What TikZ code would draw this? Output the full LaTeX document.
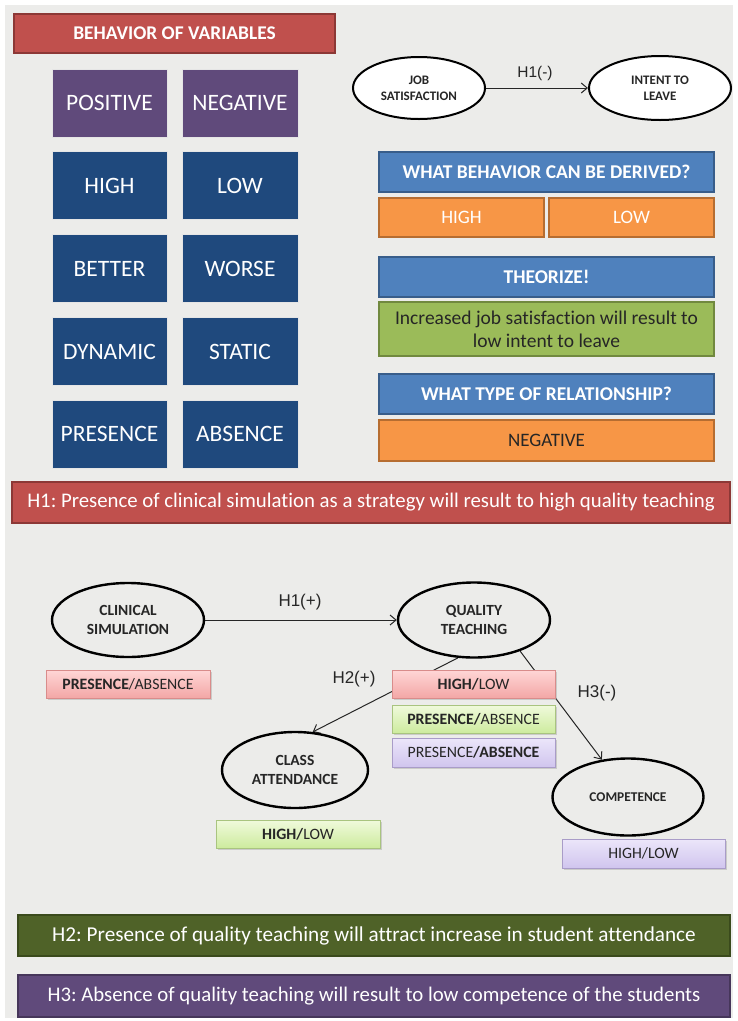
\documentclass[tikz,border=0pt]{standalone}
\usepackage{fontspec}
\setmainfont{Carlito}[Ligatures=NoCommon]
\newfontfamily\arialfont{Liberation Sans}
\usetikzlibrary{shapes.geometric,arrows.meta,shadows}
\frenchspacing
\definecolor{bgcol}{HTML}{ECECEA}
\definecolor{redf}{HTML}{C0504D}
\definecolor{redd}{HTML}{8C3836}
\definecolor{purf}{HTML}{604A7B}
\definecolor{purd}{HTML}{46365A}
\definecolor{navy}{HTML}{1F497D}
\definecolor{bluef}{HTML}{4F81BD}
\definecolor{blued}{HTML}{385D8A}
\definecolor{orf}{HTML}{F79646}
\definecolor{ord}{HTML}{B66D31}
\definecolor{grf}{HTML}{9BBB59}
\definecolor{grd}{HTML}{71893F}
\definecolor{olivef}{HTML}{4F6228}
\definecolor{olived}{HTML}{3A4A1C}
\definecolor{txt}{HTML}{262626}
\definecolor{pinkt}{HTML}{FFD6D6}
\definecolor{pinkb}{HTML}{F3A7A6}
\definecolor{pinkd}{HTML}{D98C8B}
\definecolor{greent}{HTML}{F0FADC}
\definecolor{greenb}{HTML}{CDEB9E}
\definecolor{greend}{HTML}{A9C47F}
\definecolor{purt}{HTML}{ECE6FA}
\definecolor{purb}{HTML}{D0C5EE}
\definecolor{purtd}{HTML}{A99CC8}
\newcommand\fsz[2]{\fontsize{#1}{#2}\selectfont}
\pgfdeclarelayer{bg}
\pgfdeclarelayer{lines}
\pgfsetlayers{bg,lines,main}
\tikzset{
  box/.style={rectangle, inner sep=0pt, align=center},
  titlebox/.style={box, fill=redf, draw=redd, line width=1.2pt, text=white},
  grid/.style={box, minimum width=116pt, minimum height=68pt, text=white,
    font=\fsz{23.5}{27}, draw=white!80!gray, line width=0.8pt},
  gpurple/.style={grid, fill=purf},
  gnavy/.style={grid, fill=navy},
  bluebar/.style={box, minimum width=335pt, minimum height=40pt, fill=bluef,
    draw=blued, line width=1.2pt, text=white, font=\fsz{19.5}{23}\bfseries},
  orbox/.style={box, fill=orf, draw=ord, line width=1.2pt, font=\fsz{19}{23}},
  grbox/.style={box, fill=grf, draw=grd, line width=1.2pt, text=txt, font=\fsz{19.5}{23}},
  hbar/.style={box, line width=1.2pt, text=white, font=\fsz{20.8}{24}},
  ell/.style={ellipse, draw=black, line width=2.4pt, inner sep=0pt, align=center,
    text=txt, font=\fsz{15.5}{18.5}\bfseries},
  tag/.style={box, minimum width=164pt, minimum height=28pt, line width=0.8pt,
    text=txt, font=\fsz{15.8}{18},
    drop shadow={shadow xshift=1.5pt, shadow yshift=-1.5pt, opacity=0.3, fill=gray}},
  pinktag/.style={tag, top color=pinkt, bottom color=pinkb, draw=pinkd},
  greentag/.style={tag, top color=greent, bottom color=greenb, draw=greend},
  purpletag/.style={tag, top color=purt, bottom color=purb, draw=purtd},
  hyp/.style={font=\arialfont\fsz{17}{19}, text=txt, inner sep=0pt},
  conn/.style={line width=1pt, draw=txt, -{Straight Barb[length=6pt, width=10pt]}},
}
\begin{document}
\begin{tikzpicture}[x=1pt, y=-1pt]
\useasboundingbox (0,0) rectangle (737,1021);
\begin{pgfonlayer}{bg}
  \fill[white] (0,0) rectangle (737,1021);
  \fill[bgcol] (5,5) rectangle (733,1018);
\end{pgfonlayer}

% ---------- top left ----------
\node[titlebox, minimum width=321pt, minimum height=39pt, font=\fsz{19.4}{23}\bfseries]
  (bov) at (174.5,33.5) {BEHAVIOR OF VARIABLES};
\node[gpurple, minimum width=115pt] (pos) at (109.5,103) {POSITIVE};
\node[gpurple] (neg) at (240,103) {NEGATIVE};
\node[gnavy, minimum width=115pt] (high) at (109.5,185.5) {HIGH};
\node[gnavy] (low) at (240,185.5) {LOW};
\node[gnavy, minimum width=115pt] (better) at (109.5,268.5) {BETTER};
\node[gnavy] (worse) at (240,268.5) {WORSE};
\node[gnavy, minimum width=115pt] (dyn) at (109.5,351.5) {DYNAMIC};
\node[gnavy] (stat) at (240,351.5) {STATIC};
\node[gnavy, minimum width=115pt] (pres) at (109.5,434) {PRESENCE};
\node[gnavy] (abs) at (240,434) {ABSENCE};

% ---------- top right ----------
\node[ell, fill=white, line width=2pt, minimum width=132pt, minimum height=62pt,
  font=\fsz{13}{16}\bfseries] (js) at (419,88) {JOB\\SATISFACTION};
\node[ell, fill=white, line width=2pt, minimum width=142pt, minimum height=64pt,
  font=\fsz{13}{16}\bfseries] (il) at (660,88) {INTENT TO\\LEAVE};
\node[hyp, font=\arialfont\fsz{15.5}{18}] (h1m) at (535,73) {H1(-)};

\node[bluebar] (derive) at (546.5,172) {WHAT BEHAVIOR CAN BE DERIVED?};
\node[orbox, minimum width=165pt, minimum height=39pt, text=white] (ohigh) at (461.5,217.5) {HIGH};
\node[orbox, minimum width=165pt, minimum height=39pt, text=white] (olow) at (631.5,217.5) {LOW};
\node[bluebar] (theo) at (546.5,277) {THEORIZE!};
\node[grbox, minimum width=335pt, minimum height=54pt] (incr) at (546.5,329)
  {Increased job satisfaction will result to\\low intent to leave};
\node[bluebar] (rel) at (546.5,394) {WHAT TYPE OF RELATIONSHIP?};
\node[orbox, minimum width=335pt, minimum height=41pt, text=txt] (oneg) at (546.5,440.5) {NEGATIVE};

\node[hbar, fill=redf, draw=redd, minimum width=718pt, minimum height=41pt] (hone) at (371,502.5)
  {H1: Presence of clinical simulation as a strategy will result to high quality teaching};

% ---------- lower diagram ----------
\node[ell, minimum width=152pt, minimum height=74pt] (cs) at (128,620) {CLINICAL\\SIMULATION};
\node[ell, minimum width=152pt, minimum height=75pt] (qt) at (474,620) {QUALITY\\TEACHING};
\node[ell, minimum width=146pt, minimum height=76pt] (ca) at (295,770) {CLASS\\ATTENDANCE};
\node[ell, minimum width=151pt, minimum height=77pt, font=\fsz{13.4}{16}\bfseries] (comp) at (628,797) {COMPETENCE};

\node[hyp] (h1p) at (300,602) {H1(+)};
\node[hyp] (h2p) at (354,679) {H2(+)};
\node[hyp] (h3m) at (597,693) {H3(-)};

\node[pinktag] (csp) at (128,684) {\textbf{PRESENCE}/ABSENCE};
\node[pinktag, minimum width=163pt] (qthl) at (473.5,684) {\textbf{HIGH/}LOW};
\node[greentag, minimum width=163pt] (qtpa) at (473.5,719) {\textbf{PRESENCE/}ABSENCE};
\node[purpletag, minimum width=163pt, minimum height=29pt] (qtpb) at (473.5,752.5) {PRESENCE\textbf{/ABSENCE}};
\node[greentag] (cahl) at (298,834) {\textbf{HIGH/}LOW};
\node[purpletag, minimum width=163pt, minimum height=29pt] (cohl) at (643.5,853.5) {HIGH/LOW};

\node[hbar, fill=olivef, draw=olived, minimum width=712pt, minimum height=41pt,
  font=\fsz{21.2}{24}] (htwo) at (374,935.5)
  {H2: Presence of quality teaching will attract increase in student attendance};
\node[hbar, fill=purf, draw=purd, minimum width=712pt, minimum height=42pt] (hthree) at (374,996)
  {H3: Absence of quality teaching will result to low competence of the students};

% ---------- connectors ----------
\begin{pgfonlayer}{lines}
  \draw[conn] (js.east) -- (il.west);
  \draw[conn] (cs.east) -- (qt.west);
  \draw[conn] (qt.247) -- (ca.65);
  \draw[conn] (qt.326) -- (comp.125);
\end{pgfonlayer}
\end{tikzpicture}
\end{document}
